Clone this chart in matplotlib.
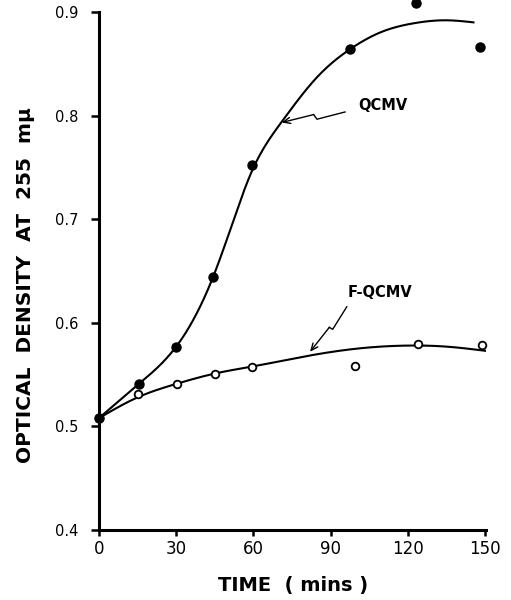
import numpy as np
import matplotlib
matplotlib.use("Agg")
import matplotlib.pyplot as plt

# Measured optical density (255 mu) against time
qcmv_time = [0, 15.5, 30, 44.3, 59.5, 97.5, 123, 148]
qcmv_od = [0.508, 0.541, 0.577, 0.644, 0.752, 0.864, 0.909, 0.866]

fqcmv_time = [0, 15.2, 30.3, 45, 59.5, 99.5, 124, 149]
fqcmv_od = [0.508, 0.531, 0.541, 0.551, 0.557, 0.558, 0.580, 0.579]

# Hand-fitted smooth curves through the data (knots)
qcmv_fit_time = [0, 15.5, 30, 44.3, 52, 59, 71, 84.7, 97.5, 110, 122, 135, 145.5]
qcmv_fit_od = [0.508, 0.541, 0.577, 0.644, 0.697, 0.744, 0.794, 0.837,
               0.864, 0.881, 0.889, 0.892, 0.890]

fqcmv_fit_time = [0, 15, 30, 45, 60, 81, 100, 120, 135, 150]
fqcmv_fit_od = [0.508, 0.528, 0.541, 0.551, 0.558, 0.568, 0.575, 0.578, 0.577, 0.573]

x_ticks = [0, 30, 60, 90, 120, 150]
y_ticks = [0.4, 0.5, 0.6, 0.7, 0.8, 0.9]
y_tick_labels = ["0.4", "0.5", "0.6", "0.7", "0.8", "0.9"]

FONT = ["DejaVu Sans"]
plt.rcParams["font.family"] = FONT


def natural_spline(x, y, xs):
    """Natural cubic spline through the knots (x, y), evaluated at xs."""
    x = np.asarray(x, float)
    y = np.asarray(y, float)
    n = len(x)
    h = np.diff(x)
    A = np.zeros((n, n))
    r = np.zeros(n)
    A[0, 0] = A[-1, -1] = 1.0
    for i in range(1, n - 1):
        A[i, i - 1] = h[i - 1]
        A[i, i] = 2 * (h[i - 1] + h[i])
        A[i, i + 1] = h[i]
        r[i] = 3 * ((y[i + 1] - y[i]) / h[i] - (y[i] - y[i - 1]) / h[i - 1])
    c = np.linalg.solve(A, r)
    b = (y[1:] - y[:-1]) / h - h * (2 * c[:-1] + c[1:]) / 3
    d = (c[1:] - c[:-1]) / (3 * h)
    idx = np.clip(np.searchsorted(x, xs) - 1, 0, n - 2)
    dx = xs - x[idx]
    return y[idx] + b[idx] * dx + c[idx] * dx**2 + d[idx] * dx**3


fig = plt.figure(figsize=(5.11, 6.0), dpi=100)
ax = fig.add_axes([0.1937, 0.1167, 0.758, 0.8633])

# fitted curves
tq = np.linspace(qcmv_fit_time[0], qcmv_fit_time[-1], 400)
ax.plot(tq, natural_spline(qcmv_fit_time, qcmv_fit_od, tq), color="black",
        lw=1.5, zorder=2)
tf = np.linspace(fqcmv_fit_time[0], fqcmv_fit_time[-1], 400)
ax.plot(tf, natural_spline(fqcmv_fit_time, fqcmv_fit_od, tf), color="black",
        lw=1.5, zorder=2)

# data points
ax.plot(fqcmv_time, fqcmv_od, "o", ms=5.5, mfc="white", mec="black", mew=1.3,
        zorder=3, clip_on=False)
ax.plot(qcmv_time, qcmv_od, "o", ms=6.5, color="black", zorder=4, clip_on=False)

# zig-zag pointers to the curves
q_ptr_x = [95.6, 84.7, 83.4, 71.0]
q_ptr_y = [0.8035, 0.7965, 0.8010, 0.7933]
f_ptr_x = [96.3, 90.8, 89.5, 82.0]
f_ptr_y = [0.6155, 0.5937, 0.5956, 0.5720]
for px, py in ((q_ptr_x, q_ptr_y), (f_ptr_x, f_ptr_y)):
    ax.plot(px[:-1], py[:-1], color="black", lw=1.0, zorder=2)
    ax.annotate("", xy=(px[-1], py[-1]), xytext=(px[-2], py[-2]),
                arrowprops=dict(arrowstyle="->,head_length=0.5,head_width=0.22",
                                lw=1.0, color="black", shrinkA=0, shrinkB=0))

ax.text(110.4, 0.810, "QCMV", ha="center", va="center", fontsize=10.5,
        fontweight="bold")
ax.text(109.2, 0.6297, "F-QCMV", ha="center", va="center", fontsize=10.5,
        fontweight="bold")

ax.set_xlim(0, 150.5)
ax.set_ylim(0.4, 0.9)
ax.set_xticks(x_ticks)
ax.set_xticklabels([str(v) for v in x_ticks], fontsize=12)
ax.set_yticks(y_ticks)
ax.set_yticklabels(y_tick_labels, fontsize=10.5)

for side in ("top", "right"):
    ax.spines[side].set_visible(False)
for side in ("left", "bottom"):
    ax.spines[side].set_linewidth(2.2)

ax.tick_params(axis="y", direction="out", length=6, width=1.8, pad=9)
ax.tick_params(axis="x", direction="out", length=4, width=1.8, pad=3)

fig.text(0.049, 0.525, "OPTICAL  DENSITY  AT  255  m\u03bc", rotation=90,
         ha="center", va="center", fontsize=14.5, fontweight="bold")
fig.text(0.574, 0.025, "TIME  ( mins )", ha="center", va="center",
         fontsize=14, fontweight="bold")

fig.savefig("out.png", dpi=100)
